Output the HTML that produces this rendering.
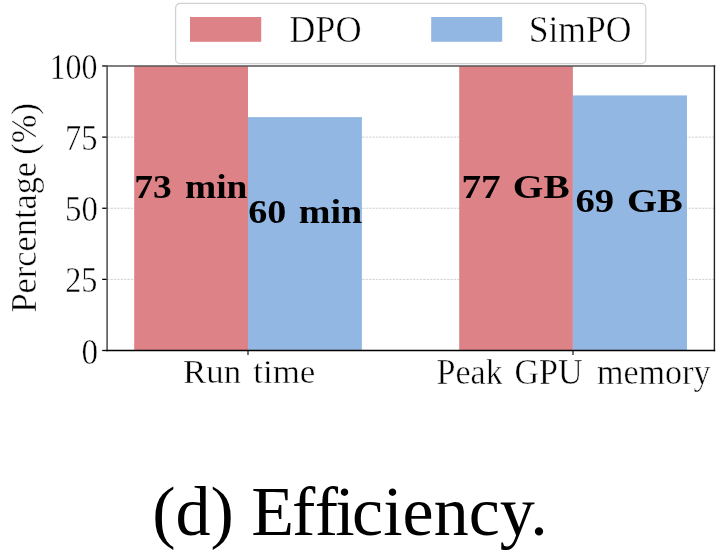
<!DOCTYPE html>
<html lang="en"><head><meta charset="utf-8"><title>(d) Efficiency.</title>
<style>html,body{margin:0;padding:0;background:#fff}svg{display:block}text{font-family:"Liberation Serif", serif;fill:#000}</style></head>
<body>
<svg width="721" height="553" viewBox="0 0 721 553" role="img" aria-label="Efficiency bar chart">
<rect width="721" height="553" fill="#fff"/>
<line x1="107.1" x2="714.4" y1="279.38" y2="279.38" stroke="#b0b0b0" stroke-opacity="0.85" stroke-width="0.7" stroke-dasharray="2.3 1.1"/>
<line x1="107.1" x2="714.4" y1="208.25" y2="208.25" stroke="#b0b0b0" stroke-opacity="0.85" stroke-width="0.7" stroke-dasharray="2.3 1.1"/>
<line x1="107.1" x2="714.4" y1="137.12" y2="137.12" stroke="#b0b0b0" stroke-opacity="0.85" stroke-width="0.7" stroke-dasharray="2.3 1.1"/>
<rect x="134.2" y="66.0" width="113.8" height="284.5" fill="#dd8286"/>
<rect x="248.0" y="117.1" width="113.9" height="233.4" fill="#93b7e3"/>
<rect x="459.2" y="66.0" width="113.7" height="284.5" fill="#dd8286"/>
<rect x="572.9" y="95.4" width="114.1" height="255.1" fill="#93b7e3"/>
<line x1="102.2" x2="107.1" y1="350.50" y2="350.50" stroke="#000" stroke-width="1.3"/>
<line x1="102.2" x2="107.1" y1="279.38" y2="279.38" stroke="#000" stroke-width="1.3"/>
<line x1="102.2" x2="107.1" y1="208.25" y2="208.25" stroke="#000" stroke-width="1.3"/>
<line x1="102.2" x2="107.1" y1="137.12" y2="137.12" stroke="#000" stroke-width="1.3"/>
<line x1="102.2" x2="107.1" y1="66.00" y2="66.00" stroke="#000" stroke-width="1.3"/>
<line x1="248.0" x2="248.0" y1="350.5" y2="354.9" stroke="#000" stroke-width="1.1"/>
<line x1="573.0" x2="573.0" y1="350.5" y2="354.9" stroke="#000" stroke-width="1.1"/>
<line x1="107.1" x2="107.1" y1="65.3" y2="351.2" stroke="#555" stroke-width="1.6"/>
<line x1="106.3" x2="715.2" y1="66.0" y2="66.0" stroke="#555" stroke-width="1.6"/>
<line x1="714.4" x2="714.4" y1="65.3" y2="351.2" stroke="#222" stroke-width="1.4"/>
<line x1="106.3" x2="715.2" y1="350.5" y2="350.5" stroke="#000" stroke-width="1.4"/>
<rect x="175.6" y="3.4" width="470.2" height="60.2" rx="4.5" fill="#fff" fill-opacity="0.8" stroke="#d0d0d0" stroke-width="1.2"/>
<rect x="190" y="17" width="71.2" height="24.8" fill="#dd8286"/>
<rect x="431.2" y="17" width="71.0" height="24.8" fill="#93b7e3"/>
<text transform="translate(0,41.80) scale(1.0641,1.0864)" font-size="34" font-weight="400" stroke="#fff" stroke-width="0.45"><tspan x="271.81">DPO</tspan></text>
<text transform="translate(0,42.00) scale(1.0466,1.1000)" font-size="34" font-weight="400" stroke="#fff" stroke-width="0.45"><tspan x="505.16">SimPO</tspan></text>
<text transform="translate(0,197.50) scale(1.1012,1.0136)" font-size="34" font-weight="700"><tspan x="121.94">73 </tspan><tspan x="168.02">min</tspan></text>
<text transform="translate(0,222.80) scale(1.1214,1.0091)" font-size="34" font-weight="700"><tspan x="221.44">60 </tspan><tspan x="266.31">min</tspan></text>
<text transform="translate(0,197.50) scale(1.1561,1.0091)" font-size="34" font-weight="700"><tspan x="399.15">77 </tspan><tspan x="443.62">GB</tspan></text>
<text transform="translate(0,211.70) scale(1.1363,1.0182)" font-size="34" font-weight="700"><tspan x="506.41">69 </tspan><tspan x="551.81">GB</tspan></text>
<text transform="translate(0,383.40) scale(1.0281,1.0136)" font-size="34" font-weight="400" stroke="#fff" stroke-width="0.45"><tspan x="177.91">Run </tspan><tspan x="246.34">time</tspan></text>
<text transform="translate(0,383.70) scale(1.0033,1.0545)" font-size="34" font-weight="400" stroke="#fff" stroke-width="0.45"><tspan x="435.01">Peak </tspan><tspan x="512.75">GPU </tspan><tspan x="594.96">memory</tspan></text>
<text transform="translate(0,534.80) scale(1.0291,1.0157)" font-size="68" font-weight="400"><tspan x="147.90">(d) </tspan><tspan x="244.27">E</tspan><tspan x="283.83">f</tspan><tspan x="305.89">f</tspan><tspan x="325.81">i</tspan><tspan x="342.17">ciency.</tspan></text>
<text transform="translate(0,78.60) scale(0.9398,1.0682)" font-size="34" font-weight="400" stroke="#fff" stroke-width="0.45"><tspan x="52.65">100</tspan></text>
<text transform="translate(0,149.72) scale(0.9541,1.0682)" font-size="34" font-weight="400" stroke="#fff" stroke-width="0.45"><tspan x="68.12">75</tspan></text>
<text transform="translate(0,220.85) scale(0.9672,1.0682)" font-size="34" font-weight="400" stroke="#fff" stroke-width="0.45"><tspan x="67.27">50</tspan></text>
<text transform="translate(0,291.98) scale(0.9484,1.0682)" font-size="34" font-weight="400" stroke="#fff" stroke-width="0.45"><tspan x="68.72">25</tspan></text>
<text transform="translate(0,363.70) scale(0.9786,1.0682)" font-size="34" font-weight="400" stroke="#fff" stroke-width="0.45"><tspan x="83.22">0</tspan></text>
<text transform="translate(35.60,0) rotate(-90) scale(1.0105,1.0773)" font-size="34" font-weight="400" stroke="#fff" stroke-width="0.45"><tspan x="-309.33">Percentage </tspan><tspan x="-153.03">(%)</tspan></text>
</svg>
</body></html>
